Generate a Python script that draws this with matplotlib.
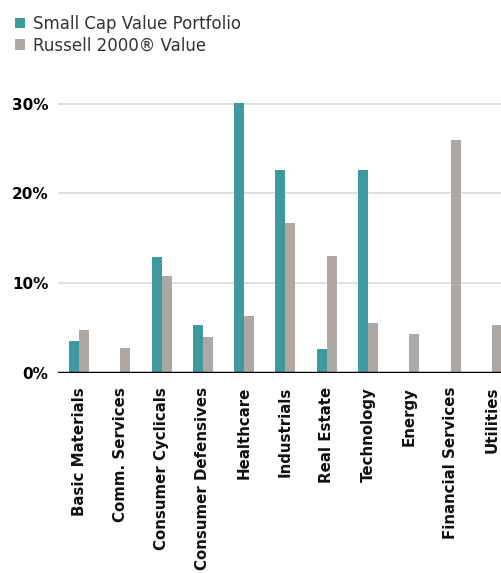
import numpy as np
import matplotlib.pyplot as plt

sectors = ["Basic Materials", "Comm. Services", "Consumer Cyclicals", "Consumer Defensives",
           "Healthcare", "Industrials", "Real Estate", "Technology", "Energy",
           "Financial Services", "Utilities"]
portfolio = [3.6, 0, 12.9, 5.4, 30.1, 22.6, 2.7, 22.6, 0, 0, 0]
russell = [4.8, 2.8, 10.8, 4.0, 6.3, 16.7, 13.0, 5.6, 4.3, 26.0, 5.3]
series_names = ["Small Cap Value Portfolio", "Russell 2000\u00ae Value"]

teal = "#3f9aa0"
grey = "#ada8a4"
w = 0.242

plt.rcParams['font.family'] = ['DejaVu Sans']

fig = plt.figure(figsize=(5.01, 5.73), dpi=100)
ax = fig.add_axes([58/501, 200/573, 443/501, 278.4/573])

x = np.arange(len(sectors))
b1 = ax.bar(x, portfolio, width=-w, align="edge", color=teal, label=series_names[0], zorder=3)
b2 = ax.bar(x, russell, width=w, align="edge", color=grey, label=series_names[1], zorder=3)

ax.set_xlim(-0.51, 10.22)
ax.set_ylim(0, 31)
ax.set_yticks([0, 10, 20, 30])
ax.set_yticklabels(["0%", "10%", "20%", "30%"], fontsize=11, fontweight="bold")
ax.set_xticks(x)
ax.set_xticklabels(sectors, rotation=90, fontsize=10.8, fontweight="bold", color="#111111")
ax.tick_params(axis="both", length=0)
ax.tick_params(axis="y", pad=7)
ax.tick_params(axis="x", pad=10)

ax.grid(axis="y", color="#dcdcdc", linewidth=1.3, zorder=0)
for s in ax.spines.values():
    s.set_visible(False)
ax.axhline(0, color="black", linewidth=2.5, zorder=4)

fig.legend(handles=[b1, b2], loc="upper left", bbox_to_anchor=(0.0, 1.0),
           frameon=False, fontsize=12, handlelength=0.6, handleheight=0.6,
           handletextpad=0.5, labelspacing=0.2, labelcolor="#333333")

fig.savefig("out.png", dpi=100)
